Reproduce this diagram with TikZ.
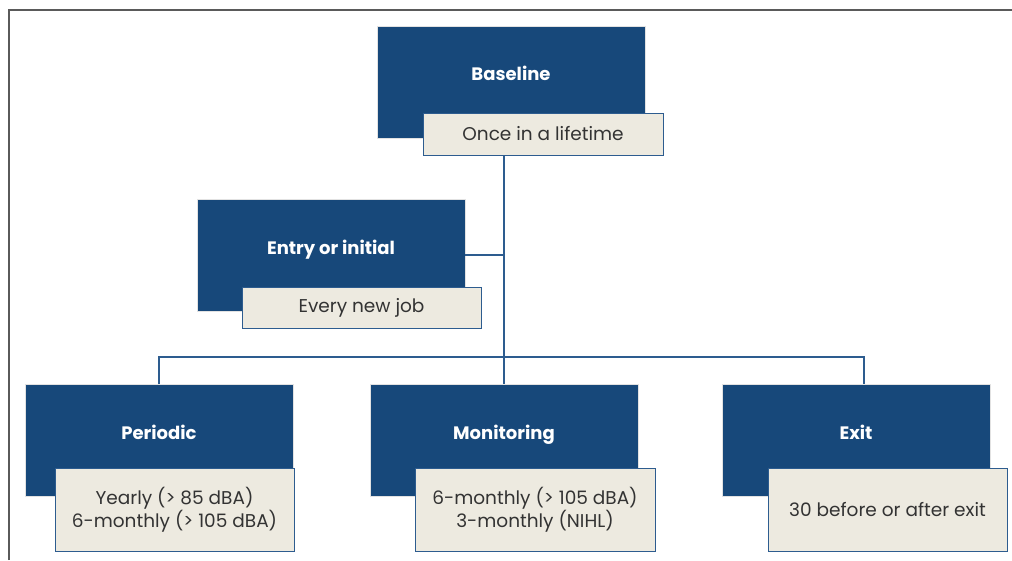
\documentclass[tikz,border=0pt]{standalone}
\usepackage{fontspec}
\setmainfont{Poppins}
\begin{document}
\begin{tikzpicture}[x=1pt,y=-1pt,
  every node/.style={inner sep=0pt,outer sep=0pt},
  headbox/.style={rectangle,anchor=north west,fill=navy,draw=edgegray,line width=0.8pt,
    minimum width=268pt,minimum height=112pt},
  headlabel/.style={anchor=base,text=white,font=\fontsize{18}{20}\selectfont\bfseries},
  notebox/.style={rectangle,anchor=north west,fill=paper,draw=rule,line width=1pt,
    text=ink,align=center,font=\fontsize{18.5}{23}\selectfont},
  link/.style={draw=rule,line width=1.5pt},
  frame/.style={draw=framegray,line width=1.6pt}]
\definecolor{navy}{HTML}{17487A}
\definecolor{paper}{HTML}{EDEAE0}
\definecolor{rule}{HTML}{2D5C8F}
\definecolor{ink}{HTML}{333333}
\definecolor{edgegray}{HTML}{E2E2E2}
\definecolor{framegray}{HTML}{5A5A5A}

\useasboundingbox (0,0) rectangle (1012,560);

% outer frame (open at right and bottom)
\draw[frame] (9,560) -- (9,10) -- (1012,10);

% header boxes
\node[headbox] (base) at (377,26) {};
\node[headbox] (entry) at (197,199) {};
\node[headbox] (peri) at (25,384) {};
\node[headbox] (moni) at (370,384) {};
\node[headbox] (exit) at (722,384) {};

\node[headlabel] at (511,80) {Baseline};
\node[headlabel] at (331,254) {Entry or initial};
\node[headlabel] at (159,439) {Periodic};
\node[headlabel] at (504,439) {Monitoring};
\node[headlabel] at (856,439) {Exit};

% frequency boxes
\node[notebox,minimum width=240pt,minimum height=42pt] (once) at (423,113) {Once in a lifetime};
\node[notebox,minimum width=239pt,minimum height=41pt] (job) at (242,287) {Every new job};
\node[notebox,minimum width=239pt,minimum height=83pt] (perinote) at (55,468) {Yearly (> 85 dBA)\\6-monthly (> 105 dBA)};
\node[notebox,minimum width=240pt,minimum height=83pt] (moninote) at (415,468) {6-monthly (> 105 dBA)\\3-monthly (NIHL)};
\node[notebox,minimum width=239pt,minimum height=83pt] (exitnote) at (768,468) {30 before or after exit};

% connectors
\coordinate (hub) at (504,357);
\coordinate (exitdrop) at (864,384);
\draw[link] (once.south -| hub) -- (hub);
\draw[link] (entry.east) -- (entry.east -| hub);
\draw[link] (hub) -- (moni.north);
\draw[link] (peri.north) |- (hub);
\draw[link] (hub) -| (exitdrop);
\end{tikzpicture}
\end{document}
